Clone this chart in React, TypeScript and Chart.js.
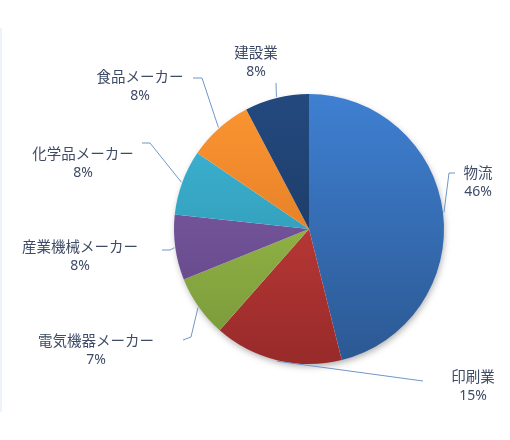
import React, { useEffect, useRef } from "react";
import { Chart, registerables } from "chart.js";

Chart.register(...registerables);

// ---- data ----
const categories = ["物流", "印刷業", "電気機器メーカー", "産業機械メーカー", "化学品メーカー", "食品メーカー", "建設業"];
const shares = [46.1, 15.4, 7.4, 7.8, 7.8, 7.8, 7.7];
const percentLabels = shares.map((v) => Math.round(v) + "%");

// ---- styles ----
const topColors = ["#3f80d2", "#d2443f", "#a5ca4c", "#8562ad", "#3fb8d8", "#fc9632", "#23497f"];
const bottomColors = ["#2b5892", "#982a2a", "#77963a", "#5c4180", "#288ca6", "#d46e1f", "#1a3456"];
const TEXT_COLOR = "#3e4b66";
const LINE_COLOR = "#7196c8";

// label placement relative to pie centre (px): elbow points then text centre
const LABEL_LAYOUT = [
  { path: [[140, -56], [146, -56]], text: [169, -57] },
  { path: [[114, 152]], text: [164, 147] },
  { path: [[-118, 108], [-126, 111]], text: [-213, 111] },
  { path: [[-139, 21], [-147, 21]], text: [-229, 17] },
  { path: [[-159, -86], [-167, -86]], text: [-226, -76] },
  { path: [[-107, -151], [-116, -151]], text: [-169, -153] },
  { path: [[-33, -146]], text: [-53, -177] },
];

const shadowPlugin = {
  id: "pieShadow",
  beforeDatasetsDraw(chart: any) {
    const meta = chart.getDatasetMeta(0);
    const arc = meta.data[0];
    if (!arc) return;
    const ctx = chart.ctx;
    ctx.save();
    ctx.shadowColor = "rgba(0,0,0,0.35)";
    ctx.shadowBlur = 7;
    ctx.shadowOffsetX = 1;
    ctx.shadowOffsetY = 3;
    ctx.fillStyle = "#ffffff";
    ctx.beginPath();
    ctx.arc(arc.x, arc.y, arc.outerRadius - 1, 0, Math.PI * 2);
    ctx.fill();
    ctx.restore();
  },
};

const labelPlugin = {
  id: "outsideLabels",
  afterDatasetsDraw(chart: any) {
    const meta = chart.getDatasetMeta(0);
    const ctx = chart.ctx;
    ctx.save();
    meta.data.forEach((arc: any, i: number) => {
      const lay = LABEL_LAYOUT[i];
      const cx = arc.x;
      const cy = arc.y;
      const mid = (arc.startAngle + arc.endAngle) / 2;
      const r = arc.outerRadius + 1;
      ctx.strokeStyle = LINE_COLOR;
      ctx.lineWidth = 1;
      ctx.beginPath();
      ctx.moveTo(cx + Math.cos(mid) * r, cy + Math.sin(mid) * r);
      lay.path.forEach((p) => ctx.lineTo(cx + p[0], cy + p[1]));
      ctx.stroke();

      ctx.fillStyle = TEXT_COLOR;
      ctx.textAlign = "center";
      ctx.textBaseline = "middle";
      ctx.font = '14.5px "Noto Sans CJK JP", "Noto Sans", sans-serif';
      ctx.fillText(categories[i], cx + lay.text[0], cy + lay.text[1]);
      ctx.font = '14px "Noto Sans", "Noto Sans CJK JP", sans-serif';
      ctx.fillText(percentLabels[i], cx + lay.text[0], cy + lay.text[1] + 20);
    });
    ctx.restore();
  },
};

export default function App() {
  const ref = useRef<HTMLCanvasElement | null>(null);

  useEffect(() => {
    if (!ref.current) return;
    const grad = (i: number) => (c: any) => {
      const area = c.chart.chartArea;
      if (!area) return topColors[i];
      const g = c.chart.ctx.createLinearGradient(0, area.top, 0, area.bottom);
      g.addColorStop(0, topColors[i]);
      g.addColorStop(1, bottomColors[i]);
      return g;
    };
    const chart = new Chart(ref.current, {
      type: "pie",
      data: {
        labels: categories,
        datasets: [
          {
            data: shares,
            backgroundColor: (c: any) => grad(c.dataIndex)(c),
            borderWidth: 0,
          },
        ],
      },
      options: {
        responsive: false,
        animation: false,
        layout: { padding: { left: 174, right: 66, top: 94, bottom: 76 } },
        plugins: {
          legend: { display: false },
          tooltip: { enabled: false },
        },
      },
      plugins: [shadowPlugin, labelPlugin],
    } as any);
    return () => chart.destroy();
  }, []);

  return (
    <div style={{ position: "absolute", left: 0, top: 0, width: 510, height: 440, background: "#ffffff" }}>
      <div style={{ position: "absolute", left: 0, top: 28, width: 2, height: 384, background: "#eef3fa" }} />
      <canvas ref={ref} width={510} height={440} style={{ position: "absolute", left: 0, top: 0 }} />
    </div>
  );
}
